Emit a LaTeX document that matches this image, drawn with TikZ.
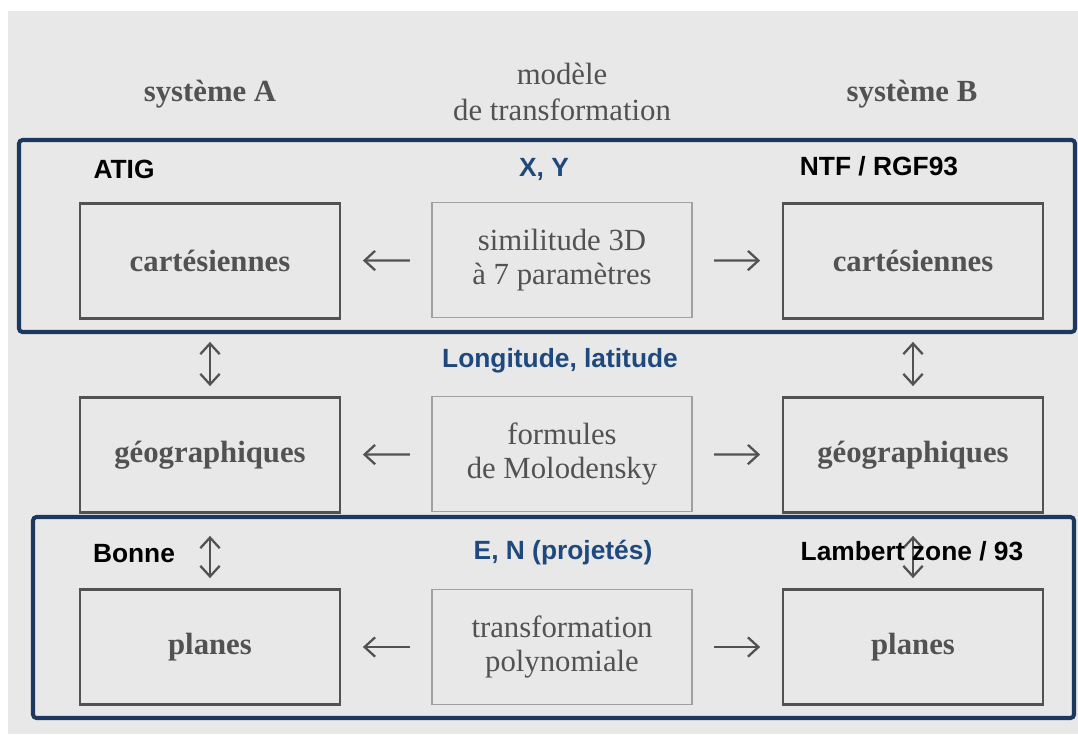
\documentclass[tikz,border=0pt]{standalone}
\usepackage{fontspec}
\setmainfont{Liberation Serif}
\newfontfamily\labfont{Liberation Sans}
\usetikzlibrary{arrows.meta}
\definecolor{fond}{RGB}{232,232,232}
\definecolor{cadre}{RGB}{28,56,94}
\definecolor{trait}{RGB}{82,82,82}
\definecolor{bleu}{RGB}{31,73,125}

\begin{document}
\begin{tikzpicture}[x=0.02cm,y=-0.02cm,
    sysbox/.style={draw=trait,line width=1.6pt,minimum width=5.2cm,minimum height=2.3cm,
      text=trait,font=\fontsize{17.5}{20}\selectfont\bfseries},
    modbox/.style={draw=trait!55,line width=0.8pt,minimum width=5.2cm,minimum height=2.3cm,
      text=trait,align=center,font=\fontsize{17.5}{19}\selectfont},
    titre/.style={text=trait,align=center,font=\fontsize{17.5}{20}\selectfont},
    lab/.style={font=\labfont\fontsize{15}{18}\selectfont\bfseries},
    labbleu/.style={lab,text=bleu},
    harrow/.style={draw=trait,line width=1.3pt,-{Straight Barb[length=6pt,width=11pt]},
      shorten <=0.43cm,shorten >=0.43cm},
    varrow/.style={draw=trait,line width=1.3pt,{Straight Barb[length=6pt,width=11pt]}-{Straight Barb[length=6pt,width=11pt]},
      shorten <=0.44cm,shorten >=0.2cm},
    frame/.style={draw=cadre,line width=2.3pt,rounded corners=2pt}]
        % background
        \fill[white] (0,0) rectangle (1078,734);
        \fill[fond] (8,11) rectangle (1078,734);

        % column titles
        \node[titre,font=\fontsize{17.5}{20}\selectfont\bfseries] (tA) at (210,94) {système A};
        \node[titre] (tM) at (562,92) {modèle\\de transformation};
        \node[titre,font=\fontsize{17.5}{20}\selectfont\bfseries] (tB) at (912,94) {système B};

        % coordinate boxes
        \node[sysbox] (a1) at (210,261) {cartésiennes};
        \node[sysbox] (a2) at (210,455) {géographiques};
        \node[sysbox] (a3) at (210,647) {planes};
        \node[sysbox] (b1) at (913,261) {cartésiennes};
        \node[sysbox] (b2) at (913,455) {géographiques};
        \node[sysbox] (b3) at (913,647) {planes};

        % transformation models
        \node[modbox] (m1) at (562,260) {similitude 3D\\à 7 paramètres};
        \node[modbox] (m2) at (562,454) {formules\\de Molodensky};
        \node[modbox] (m3) at (562,647) {transformation\\polynomiale};

        % arrows
        \foreach \r in {1,2,3} {
            \draw[harrow] (m\r) -- (a\r);
            \draw[harrow] (m\r) -- (b\r);
        }
        \draw[varrow] (a1) -- (a2);
        \draw[varrow] (a2) -- (a3);
        \draw[varrow] (b1) -- (b2);
        \draw[varrow] (b2) -- (b3);

        % frames
        \draw[frame] (19,140) rectangle (1075,332);
        \draw[frame] (33,517) rectangle (1074,718);

        % labels
        \node[lab] (atig) at (124,169) {ATIG};
        \node[lab] (ntf) at (879,166) {NTF / RGF93};
        \node[labbleu] (xy) at (544,169) {X, Y};
        \node[labbleu] (lonlat) at (560,361) {Longitude, latitude};
        \node[lab] (bonne) at (134,554) {Bonne};
        \node[labbleu] (en) at (563,553) {E, N (projetés)};
        \node[lab] (lamb) at (912,551) {Lambert zone / 93};
\end{tikzpicture}
\end{document}
